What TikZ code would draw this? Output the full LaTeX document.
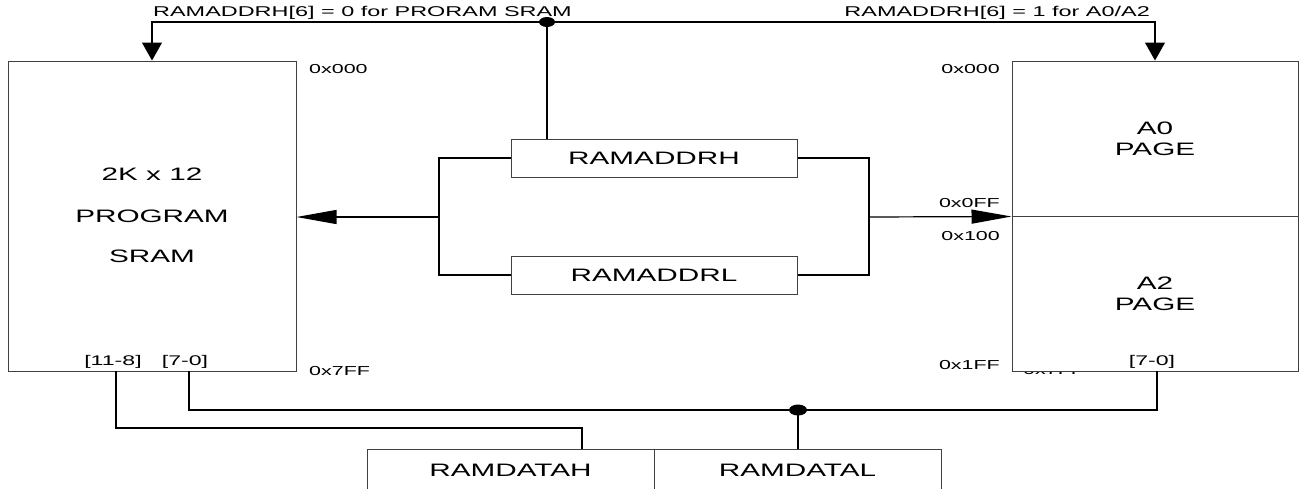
\documentclass[tikz,border=0pt]{standalone}
\usepackage{fontspec}
\setmainfont{Liberation Sans}[FakeStretch=1.65]
\usetikzlibrary{arrows.meta,calc}

\tikzset{
  box/.style={draw=black!75, line width=1pt, fill=white, inner sep=0pt,
              font=\fontsize{18}{20}\selectfont},
  big/.style={inner sep=0pt, font=\fontsize{18}{20}\selectfont},
  addr/.style={inner sep=0pt, font=\fontsize{13}{15}\selectfont},
  bits/.style={inner sep=0pt, font=\fontsize{14}{16}\selectfont},
  note/.style={inner sep=0pt, font=\fontsize{14.2}{16}\selectfont},
  wire/.style={line width=1.2pt},
  bus/.style={line width=2.5pt},
  sidearrow/.style={-{Triangle[length=40pt,width=14pt]}},
  droparrow/.style={-{Triangle[length=18pt,width=20pt]}},
  junction/.style={fill=black},
}

\begin{document}
\begin{tikzpicture}[x=1pt,y=-1pt]
\useasboundingbox (0,0) rectangle (1304,488);
\clip (0,0) rectangle (1304,488);

% address label left under the A2 page box
\node[addr, anchor=west] (hid) at (1023,370.5) {0x7FF};

% program SRAM
\node[box, minimum width=288pt, minimum height=310pt] (L) at (152,216) {};
\node[big] (l1) at (152,174) {2K x 12};
\node[big] (l2) at (152,216) {PROGRAM};
\node[big] (l3) at (152,256) {SRAM};
\node[bits] (b1) at (113,362) {[11-8]};
\node[bits] (b2) at (185,362) {[7-0]};
\node[addr, anchor=west] (a1) at (309,69) {0x000};
\node[addr, anchor=west] (a2) at (309,371) {0x7FF};

% A0 / A2 pages
\node[box, minimum width=286pt, minimum height=155pt] (A0) at (1155,138.5) {};
\node[box, minimum width=286pt, minimum height=155pt] (A2) at (1155,293.5) {};
\node[big] (p1) at (1155,128) {A0};
\node[big] (p2) at (1155,149) {PAGE};
\node[big] (p3) at (1155,283) {A2};
\node[big] (p4) at (1155,304) {PAGE};
\node[bits] (b3) at (1152,362) {[7-0]};
\node[addr, anchor=east] (a3) at (1000,69) {0x000};
\node[addr, anchor=east] (a4) at (1000,203) {0x0FF};
\node[addr, anchor=east] (a5) at (1000,236) {0x100};
\node[addr, anchor=east] (a6) at (1000,365) {0x1FF};

% address registers
\node[box, minimum width=286pt, minimum height=38pt] (RH) at (654,158) {RAMADDRH};
\node[box, minimum width=286pt, minimum height=38pt] (RL) at (654,275) {RAMADDRL};

% data registers
\node[box, minimum width=287pt, minimum height=42pt] (DH) at (510.5,470) {RAMDATAH};
\node[box, minimum width=287pt, minimum height=42pt] (DL) at (797.5,470) {RAMDATAL};

% top labels
\node[note, anchor=west] (n1) at (153,13) {RAMADDRH[6] = 0 for PRORAM SRAM};
\node[note, anchor=east] (n2) at (1150,13) {RAMADDRH[6] = 1 for A0/A2};

% page select line
\coordinate (J1) at (547,22);
\draw[wire, droparrow] (J1) -| (L.north);
\draw[wire, droparrow] (J1) -| (A0.north);
\draw[wire] (J1) -- (J1 |- RH.north);
\fill[junction] (J1) ellipse (8 and 5);

% address buses
\coordinate (BL) at (439,217);
\coordinate (BR) at (869,217);
\draw[bus] (RH.west) -| (BL) |- (RL.west);
\draw[bus] (RH.east) -| (BR) |- (RL.east);
\draw[wire, sidearrow] (BL) -- (L.east |- BL);
\draw[wire, sidearrow] (BR) -- (A0.south west);

% data buses
\coordinate (hiOut) at (116,371);
\coordinate (hiBend) at (116,428);
\coordinate (hiIn) at (582,428);
\coordinate (loOut) at (189,371);
\coordinate (pgOut) at (1157,371);
\coordinate (J2) at (798,410);
\draw[bus] (hiOut) -- (hiBend) -- (hiIn) -- (hiIn |- DH.north);
\draw[bus] (loOut) |- (J2) -| (pgOut);
\draw[bus] (J2) -- (J2 |- DL.north);
\fill[junction] (J2) ellipse (9 and 5.5);
\end{tikzpicture}
\end{document}
